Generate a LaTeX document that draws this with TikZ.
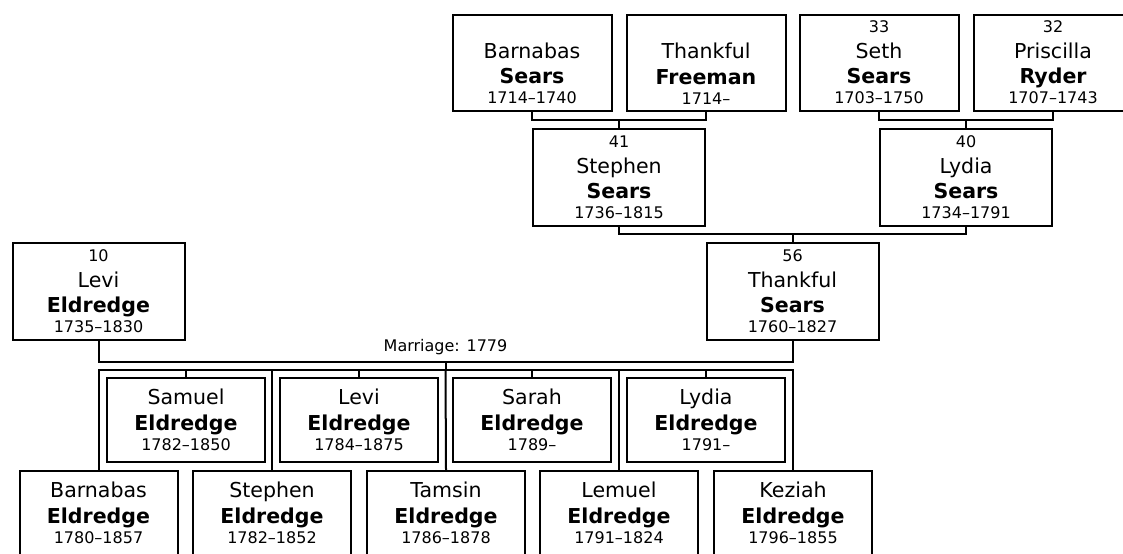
\documentclass[tikz,border=0pt]{standalone}
\usepackage{fontspec}
\setmainfont{DejaVu Sans}
\newcommand{\miudo}{\fontsize{12}{15}\selectfont}

\begin{document}
\begin{tikzpicture}[
    x=0.75pt, y=-0.75pt,
    caixa/.style={
        draw,
        line width=1.5pt,
        inner sep=0pt,
        align=center,
        font=\fontsize{15.4}{19.2}\selectfont
    },
    caixaAvo/.style={caixa, minimum width=119.25pt, minimum height=72pt},
    caixaPai/.style={caixa, minimum width=129pt, minimum height=72.75pt},
    caixaFilho/.style={caixa, minimum width=118.5pt, minimum height=63pt},
    linha/.style={
        line width=1.5pt
    }
]
\useasboundingbox (0,0) rectangle (1123,553);
\clip (0,0) rectangle (1123,553);

% =================================================
% BISAVOS
% =================================================

\node[caixaAvo] (barnabasS) at (532,62.5)
{{\miudo\phantom{0}}\\Barnabas\\\textbf{Sears}\\[-4.2pt]{\miudo 1714–1740}};

\node[caixaAvo] (thankfulF) at (706,62.5)
{{\miudo\phantom{0}}\\Thankful\\\textbf{Freeman}\\[-4.2pt]{\miudo 1714–}};

\node[caixaAvo] (sethS) at (879,62.5)
{{\miudo 33}\\Seth\\\textbf{Sears}\\[-4.2pt]{\miudo 1703–1750}};

\node[caixaAvo] (priscillaR) at (1053,62.5)
{{\miudo 32}\\Priscilla\\\textbf{Ryder}\\[-4.2pt]{\miudo 1707–1743}};

\draw[linha] (barnabasS.south) -- ++(0,8) -| (thankfulF.south);
\draw[linha] (sethS.south) -- ++(0,8) -| (priscillaR.south);

% =================================================
% AVOS
% =================================================

\node[caixaPai] (stephenS) at (619,177.5)
{{\miudo 41}\\Stephen\\\textbf{Sears}\\[-4.2pt]{\miudo 1736–1815}};

\node[caixaPai] (lydiaS) at (966,177.5)
{{\miudo 40}\\Lydia\\\textbf{Sears}\\[-4.2pt]{\miudo 1734–1791}};

\draw[linha] (stephenS.north) -- ++(0,-8);
\draw[linha] (lydiaS.north) -- ++(0,-8);
\draw[linha] (stephenS.south) -- ++(0,7) -| (lydiaS.south);

% =================================================
% CASAL
% =================================================

\node[caixaPai] (leviE) at (98.5,291.5)
{{\miudo 10}\\Levi\\\textbf{Eldredge}\\[-4.2pt]{\miudo 1735–1830}};

\node[caixaPai] (thankfulS) at (792.5,291.5)
{{\miudo 56}\\Thankful\\\textbf{Sears}\\[-4.2pt]{\miudo 1760–1827}};

\draw[linha] (thankfulS.north) -- ++(0,-8);
\draw[linha] (leviE.south) -- ++(0,21) coordinate (casL)
    -- (casL -| thankfulS.south)
    node[midway, above=1pt, font=\miudo] (casamento) {Marriage: 1779}
    coordinate[midway] (casM)
    -- (thankfulS.south);

% =================================================
% FILHOS
% =================================================

\node[caixaFilho] (samuelE) at (186,420)
{Samuel\\\textbf{Eldredge}\\[-4.2pt]{\miudo 1782–1850}};

\node[caixaFilho] (leviE2) at (359,420)
{Levi\\\textbf{Eldredge}\\[-4.2pt]{\miudo 1784–1875}};

\node[caixaFilho] (sarahE) at (532,420)
{Sarah\\\textbf{Eldredge}\\[-4.2pt]{\miudo 1789–}};

\node[caixaFilho] (lydiaE) at (706,420)
{Lydia\\\textbf{Eldredge}\\[-4.2pt]{\miudo 1791–}};

\node[caixaFilho] (barnabasE) at (98.5,513)
{Barnabas\\\textbf{Eldredge}\\[-4.2pt]{\miudo 1780–1857}};

\node[caixaFilho] (stephenE) at (272,513)
{Stephen\\\textbf{Eldredge}\\[-4.2pt]{\miudo 1782–1852}};

\node[caixaFilho] (tamsinE) at (446,513)
{Tamsin\\\textbf{Eldredge}\\[-4.2pt]{\miudo 1786–1878}};

\node[caixaFilho] (lemuelE) at (619,513)
{Lemuel\\\textbf{Eldredge}\\[-4.2pt]{\miudo 1791–1824}};

\node[caixaFilho] (keziahE) at (793,513)
{Keziah\\\textbf{Eldredge}\\[-4.2pt]{\miudo 1796–1855}};

\coordinate (filhos) at (casM |- samuelE.north);
\draw[linha] (casM) -- ++(0,8) coordinate (filhos);
\draw[linha] (barnabasE.north) |- (filhos) -| (keziahE.north);
\draw[linha] (stephenE.north) -- (stephenE.north |- filhos);
\draw[linha] (tamsinE.north) -- (filhos);
\draw[linha] (lemuelE.north) -- (lemuelE.north |- filhos);
\draw[linha] (samuelE.north) -- (samuelE.north |- filhos);
\draw[linha] (leviE2.north) -- (leviE2.north |- filhos);
\draw[linha] (sarahE.north) -- (sarahE.north |- filhos);
\draw[linha] (lydiaE.north) -- (lydiaE.north |- filhos);

\end{tikzpicture}
\end{document}
